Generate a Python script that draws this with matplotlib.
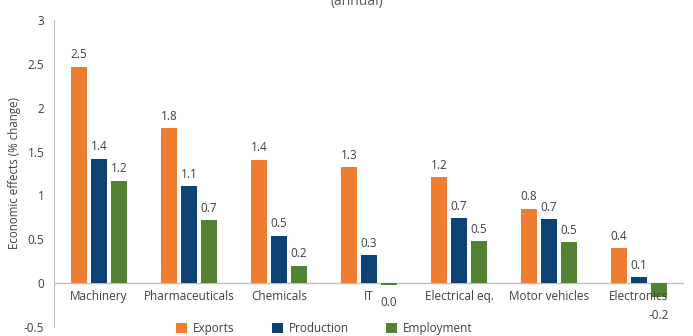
import matplotlib
matplotlib.use("Agg")
import matplotlib.pyplot as plt
import numpy as np

plt.rcParams['font.family'] = ['Open Sans', 'DejaVu Sans']

categories = ["Machinery", "Pharmaceuticals", "Chemicals", "IT", "Electrical eq.", "Motor vehicles", "Electronics"]
exports = [2.47, 1.77, 1.41, 1.32, 1.21, 0.85, 0.40]
production = [1.42, 1.11, 0.54, 0.32, 0.74, 0.73, 0.07]
employment = [1.17, 0.72, 0.20, -0.02, 0.48, 0.47, -0.16]
series_names = ["Exports", "Production", "Employment"]
colors = ["#ED7D31", "#0E4174", "#548235"]
yticks = [-0.5, 0, 0.5, 1, 1.5, 2, 2.5, 3]

fig = plt.figure(figsize=(6.93, 3.36), dpi=100)
ax = fig.add_axes([0.078, 0.027, 0.909, 0.913])

x = np.arange(len(categories))
width = 0.178
step = 0.222
txtc = "#404040"


def fmt(v):
    s = f"{v:.1f}"
    return "0.0" if s == "-0.0" else s


for i, (vals, name, c) in enumerate(zip([exports, production, employment], series_names, colors)):
    pos = x + (i - 1) * step
    ax.bar(pos, vals, width=width, color=c, label=name, zorder=2)
    for px, v in zip(pos, vals):
        off = 8.5 if v >= 0 else -13
        ax.annotate(fmt(v), (px, v), xytext=(0, off), textcoords="offset points",
                    ha="center", va="center", fontsize=8.5, color=txtc)

ax.set_xlim(-0.5, len(categories) - 0.5)
ax.set_ylim(-0.5, 3)
ax.set_yticks(yticks)
ax.set_yticklabels([f"{t:g}" for t in yticks], fontsize=8.5, color=txtc)
ax.set_xticks(x)
ax.set_xticklabels([])
ax.tick_params(axis='both', length=0)
ax.tick_params(axis='y', pad=7)
ax.axhline(0, color="#BFBFBF", lw=1, zorder=1)
for s in ["top", "right", "bottom"]:
    ax.spines[s].set_visible(False)
ax.spines["left"].set_color("#BFBFBF")
for xi, cat in zip(x, categories):
    ax.annotate(cat, (xi, 0), xytext=(0, -9.5), textcoords="offset points",
                ha="center", va="center", fontsize=8.5, color=txtc)

ax.set_ylabel("Economic effects (% change)", fontsize=8.3, color=txtc, labelpad=2)

leg = fig.legend(loc="center", bbox_to_anchor=(0.468, 0.022), ncol=3, frameon=False,
                 fontsize=8.5, handlelength=0.9, handleheight=0.9, columnspacing=3.2,
                 handletextpad=0.5)
for t in leg.get_texts():
    t.set_color(txtc)

fig.text(0.515, 0.997, "(annual)", ha="center", va="center", fontsize=10, color="#595959")

fig.savefig("out.png", dpi=100)
